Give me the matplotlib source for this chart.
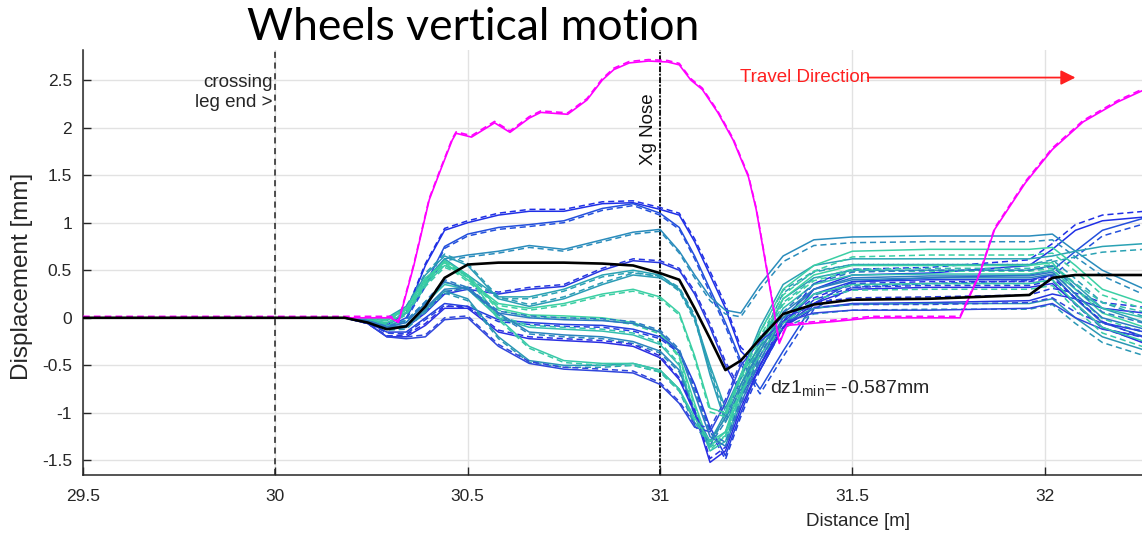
import matplotlib
matplotlib.use('Agg')
import matplotlib.pyplot as plt
import numpy as np

plt.rcParams['font.family'] = ['Liberation Sans', 'DejaVu Sans']
plt.rcParams['mathtext.fontset'] = 'custom'
plt.rcParams['mathtext.rm'] = 'Liberation Sans'
plt.rcParams['mathtext.it'] = 'Liberation Sans'

# distance stations [m] shared by all wheel curves
dist = [29.50, 30.18, 30.24, 30.29, 30.34, 30.39, 30.44, 30.50, 30.58, 30.66,
        30.75, 30.85, 30.93, 31.00, 31.05, 31.09, 31.13, 31.17, 31.21, 31.26,
        31.32, 31.40, 31.50, 31.70, 31.96, 32.02, 32.08, 32.15, 32.26]

# vertical displacement of each wheel [mm] (solid curves)
wheel_dz = [
    [0, 0, -0.03, -0.08, 0.05, 0.55, 0.92, 1.00, 1.08, 1.12, 1.12, 1.20, 1.21, 1.14, 1.08, 0.80, 0.45, 0.10, -0.35, -0.55, -0.10, 0.30, 0.45, 0.47, 0.55, 0.72, 0.92, 1.02, 1.06],
    [0, 0, -0.03, -0.10, 0.00, 0.35, 0.75, 0.88, 0.95, 0.98, 1.02, 1.15, 1.20, 1.10, 0.95, 0.65, 0.30, -0.05, -0.45, -0.75, -0.35, 0.15, 0.38, 0.42, 0.45, 0.50, 0.70, 0.92, 1.05],
    [0, 0, -0.02, -0.06, 0.05, 0.35, 0.62, 0.66, 0.70, 0.76, 0.72, 0.82, 0.90, 0.93, 0.70, 0.45, 0.22, 0.08, 0.05, 0.35, 0.65, 0.82, 0.85, 0.86, 0.86, 0.88, 0.70, 0.50, 0.30],
    [0, 0, -0.04, -0.12, -0.10, 0.05, 0.25, 0.30, 0.25, 0.30, 0.33, 0.50, 0.60, 0.58, 0.50, 0.25, -0.10, -0.50, -0.80, -0.55, -0.10, 0.10, 0.15, 0.16, 0.18, 0.25, 0.20, 0.10, 0.05],
    [0, 0, 0.00, 0.00, 0.12, 0.40, 0.62, 0.45, 0.22, 0.22, 0.30, 0.45, 0.50, 0.45, 0.30, 0.00, -0.50, -0.95, -0.60, -0.10, 0.35, 0.55, 0.62, 0.62, 0.62, 0.65, 0.70, 0.75, 0.78],
    [0, 0, -0.01, -0.03, 0.10, 0.45, 0.65, 0.55, 0.20, 0.12, 0.20, 0.35, 0.45, 0.42, 0.30, 0.00, -0.60, -1.10, -0.80, -0.30, 0.20, 0.42, 0.50, 0.50, 0.50, 0.55, 0.35, 0.10, -0.05],
    [0, 0, 0.00, -0.02, 0.08, 0.38, 0.60, 0.45, 0.10, 0.03, 0.02, 0.00, -0.05, -0.15, -0.40, -0.90, -1.35, -1.20, -0.70, -0.25, 0.20, 0.45, 0.55, 0.55, 0.55, 0.58, 0.30, 0.05, -0.10],
    [0, 0, -0.05, -0.15, -0.15, 0.00, 0.15, 0.12, -0.02, -0.05, -0.07, -0.08, -0.12, -0.20, -0.35, -0.70, -1.15, -1.45, -1.00, -0.50, -0.05, 0.25, 0.38, 0.40, 0.40, 0.45, 0.20, -0.05, -0.15],
    [0, 0, -0.02, -0.08, -0.05, 0.15, 0.35, 0.30, 0.00, -0.10, -0.12, -0.14, -0.18, -0.28, -0.50, -1.00, -1.40, -1.30, -0.85, -0.35, 0.10, 0.35, 0.45, 0.46, 0.46, 0.50, 0.30, 0.10, 0.00],
    [0, 0, -0.03, -0.10, -0.08, 0.10, 0.30, 0.32, 0.05, -0.15, -0.18, -0.20, -0.25, -0.35, -0.55, -1.00, -1.30, -1.05, -0.70, -0.35, 0.05, 0.30, 0.40, 0.42, 0.42, 0.46, 0.20, -0.05, -0.20],
    [0, 0, -0.06, -0.20, -0.20, -0.08, 0.10, 0.10, -0.15, -0.22, -0.24, -0.26, -0.30, -0.42, -0.65, -1.00, -1.52, -1.40, -0.95, -0.50, -0.10, 0.15, 0.30, 0.32, 0.32, 0.36, 0.15, -0.10, -0.27],
    [0, 0, -0.04, -0.12, -0.10, 0.08, 0.28, 0.20, -0.20, -0.45, -0.50, -0.50, -0.48, -0.55, -0.75, -1.10, -1.30, -1.00, -0.60, -0.30, -0.05, 0.10, 0.14, 0.15, 0.15, 0.20, 0.00, -0.20, -0.34],
    [0, 0, -0.06, -0.20, -0.22, -0.20, -0.02, 0.00, -0.30, -0.48, -0.54, -0.56, -0.58, -0.70, -0.90, -1.15, -1.20, -0.90, -0.50, -0.25, -0.05, 0.05, 0.08, 0.08, 0.10, 0.15, 0.00, -0.12, -0.20],
    [0, 0, -0.02, -0.05, 0.05, 0.35, 0.55, 0.45, 0.00, -0.30, -0.45, -0.48, -0.48, -0.55, -0.75, -1.05, -1.30, -1.20, -0.80, -0.40, 0.00, 0.25, 0.35, 0.36, 0.36, 0.40, 0.15, -0.10, -0.25],
    [0, 0, -0.03, -0.10, -0.05, 0.15, 0.38, 0.30, 0.05, 0.00, -0.02, -0.03, -0.06, -0.15, -0.35, -0.80, -1.25, -1.35, -0.90, -0.45, 0.00, 0.30, 0.42, 0.44, 0.44, 0.48, 0.25, 0.00, -0.12],
    [0, 0, 0.00, -0.01, 0.10, 0.42, 0.58, 0.40, 0.15, 0.10, 0.15, 0.25, 0.30, 0.22, 0.05, -0.40, -0.95, -1.00, -0.60, -0.15, 0.30, 0.55, 0.70, 0.72, 0.72, 0.74, 0.55, 0.30, 0.15],
]
wheel_colors = ['#1f2fe6', '#2350dc', '#2a8cbc', '#2636e0', '#2aa2b4', '#2b9cb6',
                '#3dd3a2', '#2440de', '#34bfae', '#2b84bd', '#2a2ee2', '#2a97b4',
                '#3046dc', '#38c9a8', '#2c78c4', '#3bcfa4']

# gap between each solid curve and its dashed twin [mm]
dash_sep = [0, 0, 0, 0.01, 0.02, 0.02, 0.02, 0.02, 0.02, 0.02, 0.02, 0.02, 0.02, 0.02,
            0.02, 0.03, 0.04, 0.04, 0.04, 0.05, 0.06, 0.06, 0.06, 0.06, 0.06, 0.06,
            0.06, 0.06, 0.06]
dash_side = [1, -1, -1, 1, -1, 1, -1, -1, 1, -1, 1, -1, 1, -1, 1, -1]

# reference wheel (black)
ref_dz = [0, 0, -0.05, -0.12, -0.09, 0.12, 0.42, 0.56, 0.58, 0.58, 0.58, 0.57, 0.55,
          0.47, 0.40, 0.10, -0.22, -0.55, -0.45, -0.22, 0.04, 0.14, 0.19, 0.20, 0.24,
          0.42, 0.45, 0.45, 0.45]

# nose wheel (magenta)
nose_x = [29.50, 30.30, 30.32, 30.36, 30.40, 30.43, 30.46, 30.47, 30.51, 30.57, 30.61,
          30.66, 30.69, 30.76, 30.81, 30.85, 30.88, 30.92, 30.97, 31.02, 31.05, 31.08,
          31.11, 31.15, 31.19, 31.23, 31.25, 31.27, 31.30, 31.31, 31.33, 31.36, 31.45,
          31.55, 31.78, 31.83, 31.87, 31.95, 32.02, 32.10, 32.19, 32.26]
nose_dz = [0, 0, -0.05, 0.55, 1.24, 1.56, 1.87, 1.94, 1.90, 2.05, 1.95, 2.10, 2.16, 2.14,
           2.29, 2.50, 2.61, 2.68, 2.70, 2.69, 2.66, 2.50, 2.40, 2.16, 1.87, 1.48, 1.14,
           0.68, -0.02, -0.27, -0.08, -0.07, -0.04, 0.0, 0.0, 0.45, 0.93, 1.42, 1.77,
           2.06, 2.27, 2.40]
nose_dash_off = 0.015

x_ticks = [29.5, 30, 30.5, 31, 31.5, 32]
x_tick_labels = ['29.5', '30', '30.5', '31', '31.5', '32']
y_ticks = [-1.5, -1, -0.5, 0, 0.5, 1, 1.5, 2, 2.5]
y_tick_labels = ['-1.5', '-1', '-0.5', '0', '0.5', '1', '1.5', '2', '2.5']

fig = plt.figure(figsize=(11.42, 5.41), dpi=100)
ax = fig.add_axes([0.0727, 0.122, 0.9273, 0.7856])

d = np.array(dist)
sep = np.array(dash_sep)
for dz, col, side in zip(wheel_dz, wheel_colors, dash_side):
    dz = np.array(dz)
    ax.plot(d, dz, color=col, lw=1.1, zorder=3)
    ax.plot(d, dz + side * sep, color=col, lw=1.1, ls=(0, (4, 2.5)), zorder=3)

ax.plot(nose_x, nose_dz, color='#ff00ff', lw=1.2, zorder=4)
ax.plot(nose_x, np.array(nose_dz) + nose_dash_off, color='#ff00ff', lw=1.2,
        ls=(0, (4, 2.5)), zorder=4)
ax.plot(d, ref_dz, color='black', lw=1.9, zorder=5)

# markers for crossing leg end and nose position
ax.axvline(30.0, color='#222222', lw=1.1, ls=(0, (4, 3)), zorder=2)
ax.axvline(31.0, color='#111111', lw=1.4, ls=(0, (3, 0.8, 1, 0.8)), zorder=2)

ax.text(29.993, 2.37, 'crossing\nleg end >', ha='right', va='center',
        multialignment='right', fontsize=13.5, color='#262626', linespacing=1.25)
ax.text(30.969, 1.98, 'Xg Nose', rotation=90, ha='center', va='center',
        fontsize=13.5, color='#111111')
ax.text(31.208, 2.526, 'Travel Direction', ha='left', va='center',
        fontsize=13.5, color='#ff2020')
ax.annotate('', xy=(32.08, 2.526), xytext=(31.54, 2.526),
            arrowprops=dict(arrowstyle='-|>', color='#ff2020', lw=1.3,
                            mutation_scale=22, shrinkA=0, shrinkB=0))
ax.text(31.286, -0.74, r'dz1$_{\mathrm{min}}$= -0.587mm', ha='left', va='center',
        fontsize=14, color='#262626')

ax.set_xlim(29.5, 32.253)
ax.set_ylim(-1.653, 2.816)
ax.set_xticks(x_ticks)
ax.set_xticklabels(x_tick_labels, fontsize=12.5)
ax.set_yticks(y_ticks)
ax.set_yticklabels(y_tick_labels, fontsize=12.5)
ax.tick_params(direction='in', length=6, width=1, colors='#262626', pad=8)
ax.tick_params(axis='x', pad=10)
ax.grid(True, color='#e2e2e2', lw=1)
ax.set_axisbelow(True)
for side in ['top', 'right']:
    ax.spines[side].set_visible(False)
for side in ['left', 'bottom']:
    ax.spines[side].set_color('#262626')
    ax.spines[side].set_linewidth(1.1)

fig.text(858 / 1142, 1 - 522 / 541, 'Distance [m]', ha='center', va='center',
         fontsize=13.5, color='#262626')
fig.text(22 / 1142, 1 - 276 / 541, 'Displacement [mm]', rotation=90, ha='center',
         va='center', fontsize=17.5, color='#262626')
fig.text(473 / 1142, 1 - 27 / 541, 'Wheels vertical motion', ha='center', va='center',
         fontsize=32, family=['Lato', 'DejaVu Sans'], color='black')

fig.savefig('out.png', dpi=100)
